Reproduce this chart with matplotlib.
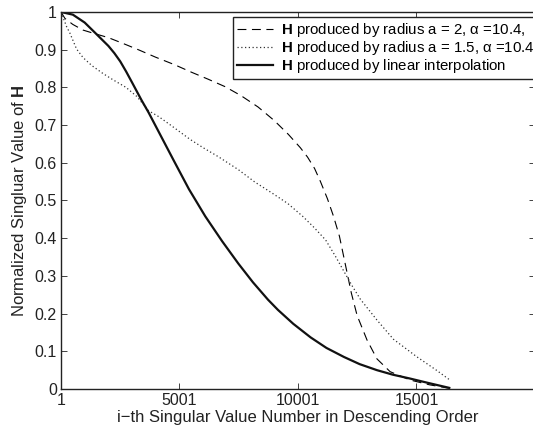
import matplotlib
matplotlib.use("Agg")
import matplotlib.pyplot as plt

plt.rcParams['font.family'] = ['Liberation Sans', 'DejaVu Sans']
plt.rcParams['mathtext.fontset'] = 'custom'
plt.rcParams['mathtext.rm'] = 'Liberation Sans'
plt.rcParams['mathtext.bf'] = 'Liberation Sans:bold'
plt.rcParams['mathtext.it'] = 'Liberation Sans:italic'

# ---- data ----
x_lin = [1, 500, 1000, 1421, 2000, 2250, 2500, 2750, 3000, 3400, 3700, 4000, 4350,
         4750, 5400, 6089, 6800, 7480, 8100, 8734, 9152, 9800, 10531, 11200, 11939,
         12600, 13331, 14000, 14710, 15500, 16384]
v_lin = [1.0, 0.993, 0.972, 0.946, 0.910, 0.891, 0.869, 0.842, 0.813, 0.766,
         0.733, 0.697, 0.655, 0.607, 0.530, 0.458, 0.392, 0.333, 0.283, 0.237,
         0.210, 0.173, 0.137, 0.109, 0.085, 0.066, 0.050, 0.038, 0.028, 0.016,
         0.003]

x_a2 = [1, 167, 500, 932, 1350, 2000, 2603, 3300, 3998, 4800, 5516, 6200, 6923,
        7600, 8316, 9000, 9600, 10100, 10405, 10700, 10950, 11241, 11500, 11750,
        12000, 12250, 12495, 12913, 13331, 13887, 14722, 15558, 16384]
v_a2 = [1.0, 0.983, 0.967, 0.952, 0.944, 0.932, 0.917, 0.899, 0.880, 0.860,
        0.840, 0.822, 0.802, 0.778, 0.748, 0.712, 0.675, 0.640, 0.615, 0.585,
        0.550, 0.505, 0.458, 0.405, 0.330, 0.255, 0.195, 0.130, 0.080, 0.046,
        0.024, 0.011, 0.002]

x_a15 = [1, 238, 376, 656, 932, 1300, 1768, 2200, 2745, 3200, 3700, 4137, 4800,
         5450, 6000, 6644, 7480, 8178, 8900, 9570, 10200, 10685, 11170, 11600,
         11939, 12300, 12634, 13331, 14028, 15002, 15838, 16384]
v_a15 = [1.0, 0.961, 0.944, 0.902, 0.879, 0.858, 0.837, 0.820, 0.800, 0.776,
         0.738, 0.722, 0.692, 0.662, 0.640, 0.616, 0.582, 0.549, 0.520, 0.492,
         0.458, 0.428, 0.395, 0.350, 0.312, 0.272, 0.238, 0.183, 0.132, 0.086,
         0.050, 0.025]

x_ticks = [1, 5001, 10001, 15001]
y_ticks = [0, 0.1, 0.2, 0.3, 0.4, 0.5, 0.6, 0.7, 0.8, 0.9, 1.0]
y_ticklabels = ['0', '0.1', '0.2', '0.3', '0.4', '0.5', '0.6', '0.7', '0.8', '0.9', '1']

labels = [r'$\mathbf{H}$ produced by radius a = 2, α =10.4,$\qquad\qquad\qquad$',
          r'$\mathbf{H}$ produced by radius a = 1.5, α =10.4,$\qquad\qquad\qquad$',
          r'$\mathbf{H}$ produced by linear interpolation']

W, H = 533, 432
fig = plt.figure(figsize=(W / 100, H / 100), dpi=100)
ax = fig.add_axes([61 / W, (H - 389) / H, 474 / W, 377 / H])

ax.plot(x_a2, v_a2, color='black', lw=0.8, dashes=(8, 5), label=labels[0])
ax.plot(x_a15, v_a15, color='#333333', lw=0.9, linestyle=(0, (1, 2)), label=labels[1])
ax.plot(x_lin, v_lin, color='#111111', lw=1.6, label=labels[2])

ax.set_xlim(1, 20001)
ax.set_ylim(0, 1)
ax.set_xticks(x_ticks)
ax.set_xticklabels([str(t) for t in x_ticks])
ax.set_yticks(y_ticks)
ax.set_yticklabels(y_ticklabels)
ax.tick_params(direction='in', length=4, width=0.6, labelsize=11.5,
               top=True, right=True, pad=3, colors='#222222')
for s in ax.spines.values():
    s.set_linewidth(1.0)
    s.set_color('#222222')

ax.set_xlabel('i\u2212th Singular Value Number in Descending Order', fontsize=12,
              labelpad=1, color='#222222')
ax.set_ylabel(r'Normalized Singluar Value of $\mathbf{H}$', fontsize=12,
              labelpad=4, color='#222222')

leg = ax.legend(loc='upper left', bbox_to_anchor=(233 / W, 1 - 17 / H),
                bbox_transform=fig.transFigure, borderaxespad=0,
                fontsize=10.8, frameon=True, fancybox=False, framealpha=1,
                edgecolor='#222222', handlelength=2.4, handletextpad=0.55,
                labelspacing=0.02, borderpad=0.25)
leg.get_frame().set_linewidth(1.0)

fig.savefig('out.png', dpi=100)
